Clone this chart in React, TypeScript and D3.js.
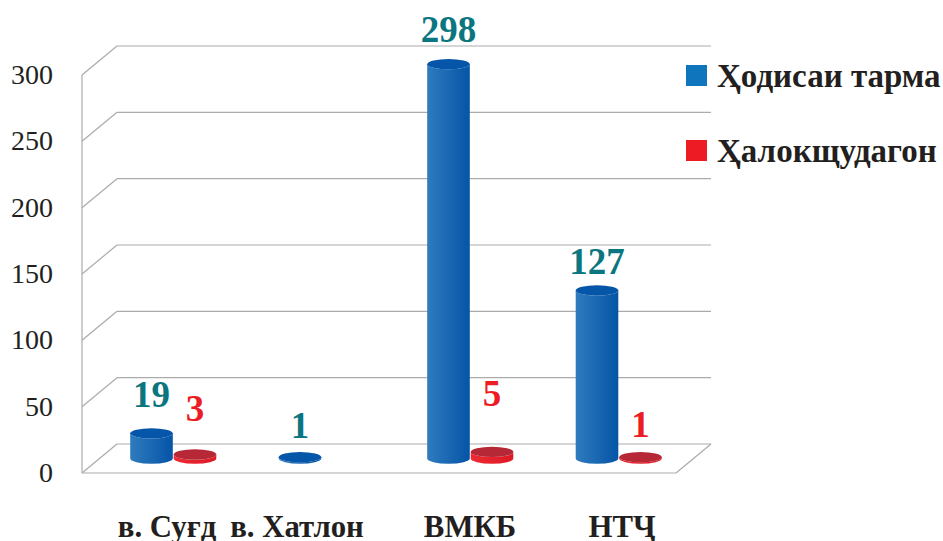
import React from "react";
import * as d3 from "d3";

const categories = ["в. Суғд", "в. Хатлон", "ВМКБ", "НТҶ"];
const incidents = [19, 1, 298, 127];
const fatalities: (number | null)[] = [3, null, 5, 1];
const yTicks = [0, 50, 100, 150, 200, 250, 300];
const legendLabels = ["Ҳодисаи тарма", "Ҳалокщудагон"];

const W = 943, H = 541;
const FONT = "'Liberation Serif', serif";
const front = d3.scaleLinear().domain([0, 300]).range([473, 75]);
const back = d3.scaleLinear().domain([0, 300]).range([444, 46]);
const base = d3.scaleLinear().domain([0, 300]).range([458.5, 61.5]);
const x = d3.scaleBand<string>().domain(categories).range([77.5, 671.5]);
const xBlue = (c: string) => (x(c) as number) + 74;
const xRed = (c: string) => xBlue(c) + 43.5;
const R = 21.3, RY = 5.2;

function Cylinder({ cx, v, side, top }: { cx: number; v: number; side: string; top: string }) {
  const y0 = base(0), y1 = base(v);
  const d = `M${cx - R},${y1} V${y0} A${R},${RY} 0 0 0 ${cx + R},${y0} V${y1} A${R},${RY} 0 0 1 ${cx - R},${y1} Z`;
  return (
    <g>
      <path d={d} fill={side} />
      <ellipse cx={cx} cy={y1} rx={R} ry={RY} fill={top} />
    </g>
  );
}

export default function App() {
  return (
    <svg width={W} height={H} viewBox={`0 0 ${W} ${H}`}
      style={{ position: "absolute", left: 0, top: 0, background: "#fff" }} fontFamily={FONT}>
      <defs>
        <linearGradient id="blue" x1="0" x2="1" y1="0" y2="0">
          <stop offset="0" stopColor="#2f7bbf" />
          <stop offset="1" stopColor="#0554a6" />
        </linearGradient>
        <linearGradient id="red" x1="0" x2="1" y1="0" y2="0">
          <stop offset="0" stopColor="#ee2a33" />
          <stop offset="1" stopColor="#dc1a26" />
        </linearGradient>
      </defs>

      <g fill="none" stroke="#ababab" strokeWidth={1.2}>
        {yTicks.map((t) => (
          <g key={t}>
            <line x1={82} y1={front(t)} x2={117} y2={back(t)} />
            <line x1={117} y1={back(t)} x2={711} y2={back(t)} />
          </g>
        ))}
        <line x1={82} y1={front(300)} x2={82} y2={front(0)} />
        <line x1={82} y1={front(0)} x2={676} y2={front(0)} />
        <line x1={676} y1={front(0)} x2={711} y2={back(0)} />
      </g>

      {yTicks.map((t) => (
        <text key={t} x={53} y={front(t) + 9} textAnchor="end" fontSize={28} fill="#231f20">{t}</text>
      ))}

      {categories.map((c, i) => (
        <Cylinder key={c} cx={xBlue(c)} v={incidents[i]} side="url(#blue)" top="#0555a8" />
      ))}
      {categories.map((c, i) => fatalities[i] == null ? null : (
        <Cylinder key={c} cx={xRed(c)} v={fatalities[i] as number} side="url(#red)" top="#b72837" />
      ))}

      {categories.map((c, i) => (
        <text key={c} x={xBlue(c)} y={[407, 438, 42, 274][i]} textAnchor="middle"
          fontSize={37} fontWeight="bold" fill="#0b767f">{incidents[i]}</text>
      ))}
      {categories.map((c, i) => fatalities[i] == null ? null : (
        <text key={c} x={xRed(c)} y={[421, 0, 406, 437][i]} textAnchor="middle"
          fontSize={37} fontWeight="bold" fill="#ed1c24">{fatalities[i]}</text>
      ))}

      {categories.map((c, i) => (
        <text key={c} x={[167, 297, 470, 622][i]} y={537} textAnchor="middle"
          fontSize={30.8} fontWeight="bold" fill="#231f20">{c}</text>
      ))}

      {legendLabels.map((l, i) => (
        <g key={l}>
          <rect x={686} y={65 + i * 75} width={21} height={21} fill={i === 0 ? "#0f75bc" : "#ed1c24"} />
          <text x={717} y={87 + i * 75} fontSize={33} fontWeight="bold" fill="#231f20">{l}</text>
        </g>
      ))}
    </svg>
  );
}
